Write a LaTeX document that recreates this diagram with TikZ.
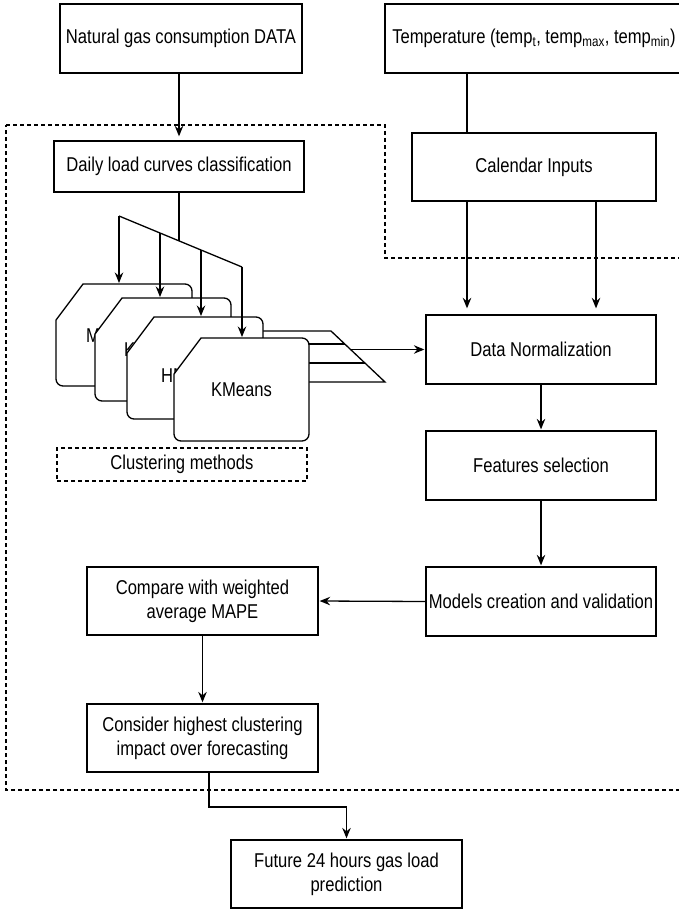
\documentclass[tikz,border=0pt]{standalone}
\usepackage{fontspec}
\usepackage{tikz}
\usetikzlibrary{arrows.meta}
\newfontfamily\flowfont{Liberation Sans}[FakeStretch=0.83]
\tikzset{
  box/.style={draw, line width=1.3pt, fill=white, inner sep=2pt, align=center},
  arr/.style={-{Stealth[length=10.5pt,width=8.5pt,inset=3.5pt]}, line width=1.3pt, shorten >=1pt},
  link/.style={line width=1.3pt},
  region/.style={line width=1.2pt, dash pattern=on 4pt off 3pt},
  cardedge/.style={line width=1.3pt, fill=white},
}
% card with cut top-left corner: left, top, right, bottom
\newcommand{\methodcard}[4]{%
  \draw[cardedge] (#1+27,#2) [rounded corners=7pt] -- (#3,#2) -- (#3,#4) -- (#1,#4) [sharp corners] -- (#1,#2+36) -- cycle;}

\begin{document}
\begin{tikzpicture}[x=1pt,y=-1pt, every node/.style={font=\flowfont\fontsize{20}{24}\selectfont}]
\useasboundingbox (0,0) rectangle (679,909);

% dashed processing region
\draw[region] (6,125) -- (385,125) -- (385,258) -- (700,258) -- (700,790) -- (6,790) -- cycle;

% inputs
\node[box, minimum width=242pt, minimum height=69pt] (gas) at (181,38.5) {Natural gas consumption DATA};
\node[box, minimum width=298pt, minimum height=69pt] (temp) at (534,38.5) {Temperature (temp\textsubscript{t}, temp\textsubscript{max}, temp\textsubscript{min})};
\node[box, minimum width=244pt, minimum height=68pt] (calendar) at (534,167) {Calendar Inputs};
\node[box, minimum width=250pt, minimum height=51pt] (daily) at (179,166.5) {Daily load curves classification};

% right column
\node[box, minimum width=230pt, minimum height=69pt] (norm) at (541,349.5) {Data Normalization};
\node[box, minimum width=230pt, minimum height=69pt] (features) at (541,465.5) {Features selection};
\node[box, minimum width=230pt, minimum height=69pt] (models) at (541,601.5) {Models creation and validation};

% left column
\node[box, minimum width=231pt, minimum height=68pt] (compare) at (202.5,601) {Compare with weighted\\average MAPE};
\node[box, minimum width=231pt, minimum height=68pt] (consider) at (202.5,738) {Consider highest clustering\\impact over forecasting};
\node[box, minimum width=231pt, minimum height=68pt] (future) at (346.5,874) {Future 24 hours gas load\\prediction};

% stacked clustering methods
\draw[cardedge] (200,331) -- (331,331) -- (385,382) -- (200,382) -- cycle;
\draw[link] (200,344) -- (344.8,344);
\draw[link] (200,363) -- (364.9,363);
\methodcard{56}{284}{192}{386}
\node[anchor=west, inner sep=0pt] (mlabel) at (86,336) {M};
\methodcard{95}{298}{231}{401}
\node[anchor=west, inner sep=0pt] (klabel) at (124,350) {K};
\methodcard{127}{317}{263}{419}
\node[anchor=west, inner sep=0pt] (hmlabel) at (161,376) {HM};
\methodcard{174}{338}{309}{441}
\node (kmeans) at (241.5,389.5) {KMeans};
\node[draw, region, minimum width=250pt, minimum height=33pt] (methods) at (182,464.5) {Clustering methods};

% splitter over the cards
\coordinate (splitL) at (119,216);
\coordinate (splitR) at (242,267);
\coordinate (splitmid) at (179,240.9);
\coordinate (split2) at (160,233);
\coordinate (split3) at (201,250);
\coordinate (card1) at (119,284);
\coordinate (card2) at (160,298);
\coordinate (card3) at (201,317);
\coordinate (card4) at (242,338);
\coordinate (fanout) at (350,349.5);
\coordinate (elbow) at (346.5,807);

% connectors
\draw[arr, shorten >=4pt] (daily.north |- gas.south) -- (daily.north);
\draw[link] ([xshift=-67pt]calendar.north) -- ([xshift=-67pt]calendar.north |- temp.south);
\draw[arr, shorten >=6pt] ([xshift=-67pt]calendar.south) -- ([xshift=-67pt]calendar.south |- norm.north);
\draw[arr, shorten >=6pt] ([xshift=62pt]calendar.south) -- ([xshift=62pt]calendar.south |- norm.north);
\draw[link] (daily.south) -- (splitmid);
\draw[link] (splitL) -- (splitR);
\draw[arr] (splitL) -- (card1);
\draw[arr] (split2) -- (card2);
\draw[arr] (split3) -- (card3);
\draw[arr] (splitR) -- (card4);
\draw[arr] (fanout) -- (norm.west);
\draw[arr] (norm) -- (features);
\draw[arr] (features) -- (models);
\draw[arr] (models.west) -- (compare.east);
\draw[arr] (compare) -- (consider);
\draw[arr] ([xshift=6.5pt]consider.south) |- (elbow) -- (future.north);
\end{tikzpicture}
\end{document}
